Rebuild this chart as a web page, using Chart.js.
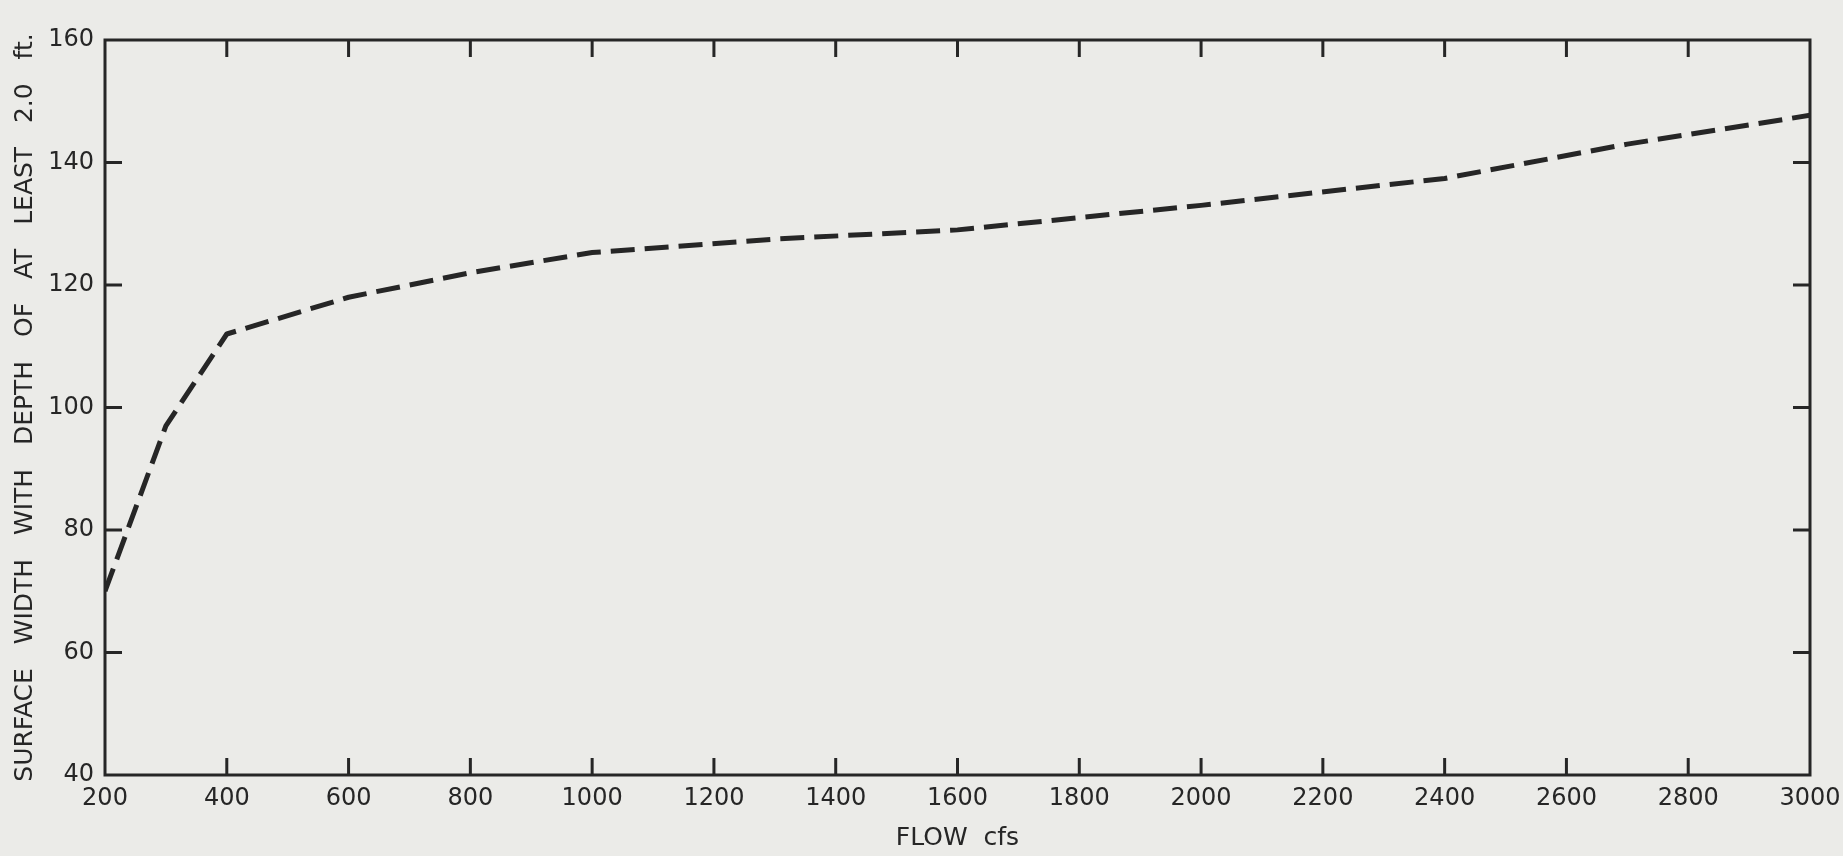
<!DOCTYPE html>
<html>
<head>
<meta charset="utf-8">
<script src="https://cdn.jsdelivr.net/npm/chart.js@4.4.1/dist/chart.umd.min.js"></script>
<style>
  html, body { margin: 0; padding: 0; background: #ebebe8; overflow: hidden; }
  canvas { display: block; }
</style>
</head>
<body>
<canvas id="c" width="1843" height="856"></canvas>
<script>
// ---- data ----
const flowCfs = [200, 300, 400, 600, 800, 1000, 1300, 1600, 2000, 2400, 2700, 3000];
const surfaceWidth = [70, 97, 112, 118, 122, 125.3, 127.5, 129, 133, 137.4, 143, 147.7];
const xTicks = [200, 400, 600, 800, 1000, 1200, 1400, 1600, 1800, 2000, 2200, 2400, 2600, 2800, 3000];
const yTicks = [40, 60, 80, 100, 120, 140, 160];
const xTitle = 'FLOW  cfs';
const yTitle = 'SURFACE   WIDTH   WITH   DEPTH   OF   AT   LEAST   2.0   ft.';

const INK = '#262626';
const PAPER = '#ebebe8';
const FONT = "'DejaVu Sans', sans-serif";

const paper = {
  id: 'paper',
  beforeDraw(chart) {
    const ctx = chart.ctx;
    ctx.save();
    ctx.fillStyle = PAPER;
    ctx.fillRect(0, 0, chart.width, chart.height);
    ctx.restore();
  }
};

const frameTicks = {
  id: 'frameTicks',
  afterDraw(chart) {
    const { ctx, chartArea: { left, right, top, bottom }, scales: { x, y } } = chart;
    const L = 17;
    ctx.save();
    ctx.strokeStyle = INK;
    ctx.lineWidth = 3;
    ctx.lineCap = 'butt';
    ctx.strokeRect(left, top, right - left, bottom - top);
    ctx.beginPath();
    x.ticks.forEach(t => {
      const px = x.getPixelForValue(t.value);
      if (px <= left + 1 || px >= right - 1) return;
      ctx.moveTo(px, bottom); ctx.lineTo(px, bottom - L);
      ctx.moveTo(px, top); ctx.lineTo(px, top + L);
    });
    y.ticks.forEach(t => {
      const py = y.getPixelForValue(t.value);
      if (py <= top + 1 || py >= bottom - 1) return;
      ctx.moveTo(left, py); ctx.lineTo(left + L, py);
      ctx.moveTo(right, py); ctx.lineTo(right - L, py);
    });
    ctx.stroke();
    ctx.restore();
  }
};

new Chart(document.getElementById('c'), {
  type: 'line',
  data: {
    datasets: [{
      data: flowCfs.map((f, i) => ({ x: f, y: surfaceWidth[i] })),
      borderColor: INK,
      borderWidth: 5,
      borderDash: [24, 10],
      borderCapStyle: 'butt',
      borderJoinStyle: 'round',
      tension: 0,
      pointRadius: 0,
      fill: false
    }]
  },
  options: {
    responsive: false,
    animation: false,
    devicePixelRatio: 1,
    layout: { padding: { left: 0, top: 40, right: 33, bottom: 0 } },
    plugins: { legend: { display: false }, tooltip: { enabled: false } },
    scales: {
      x: {
        type: 'linear',
        min: 200, max: 3000,
        afterBuildTicks(scale) { scale.ticks = xTicks.map(v => ({ value: v })); },
        afterFit(scale) { scale.height = 81; scale.paddingRight = 0; scale.paddingLeft = 0; },
        grid: { display: false, drawTicks: false },
        border: { display: false },
        ticks: { color: INK, font: { family: FONT, size: 24 }, padding: 9, maxRotation: 0, autoSkip: false,
                 callback: v => String(v) },
        title: { display: true, text: xTitle, color: INK, font: { family: FONT, size: 25 }, padding: { top: 0, bottom: 3 } }
      },
      y: {
        type: 'linear',
        min: 40, max: 160,
        afterBuildTicks(scale) { scale.ticks = yTicks.map(v => ({ value: v })); },
        afterFit(scale) { scale.width = 105; scale.paddingTop = 0; scale.paddingBottom = 0; },
        grid: { display: false, drawTicks: false },
        border: { display: false },
        ticks: { color: INK, font: { family: FONT, size: 24 }, padding: 11, autoSkip: false,
                 callback: v => String(v) },
        title: { display: true, text: yTitle, color: INK, font: { family: FONT, size: 25 }, padding: { top: 10, bottom: 0 } }
      }
    }
  },
  plugins: [paper, frameTicks]
});
</script>
</body>
</html>
